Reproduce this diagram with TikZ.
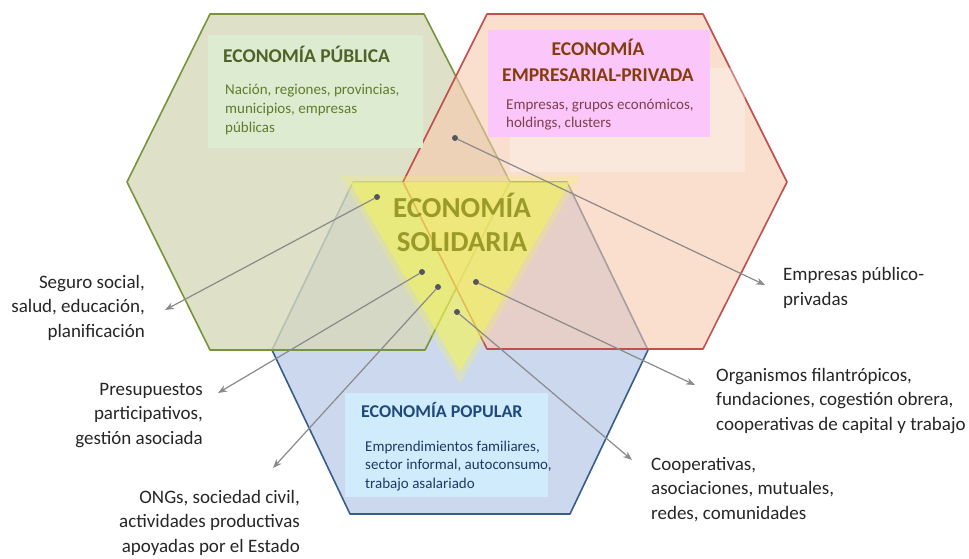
\documentclass[tikz,border=0pt]{standalone}
\usepackage{fontspec}
\setmainfont{Carlito}
\usetikzlibrary{arrows.meta,positioning}
\definecolor{greenline}{HTML}{77933C}
\definecolor{greenfill}{HTML}{D6D9BA}
\definecolor{redline}{HTML}{C0504D}
\definecolor{redfill}{HTML}{F7C9AF}
\definecolor{blueline}{HTML}{385D8A}
\definecolor{bluefill}{HTML}{CCD8EE}
\definecolor{sunfill}{HTML}{F4F45A}
\definecolor{boxgreen}{HTML}{DDEBD0}
\definecolor{boxpink}{HTML}{FBC6F9}
\definecolor{boxblue}{HTML}{D0ECFC}
\definecolor{titlegreen}{HTML}{4F6228}
\definecolor{textgreen}{HTML}{5E7D2C}
\definecolor{titlered}{HTML}{843C0C}
\definecolor{textred}{HTML}{7F3F4F}
\definecolor{titleblue}{HTML}{1F497D}
\definecolor{textblue}{HTML}{1F3864}
\definecolor{titlesun}{HTML}{9A9A28}
\definecolor{linegrey}{HTML}{8A8A8A}
\definecolor{dotgrey}{HTML}{555560}
\definecolor{labeltext}{HTML}{262626}

\begin{document}
\begin{tikzpicture}
    [x=1pt,y=-1pt,
    hexagon/.style={line width=1.6pt,line join=round},
    infobox/.style={rectangle,inner sep=0pt},
    title/.style={font=\bfseries\fontsize{19.5}{26}\selectfont,inner sep=0pt},
    bodytext/.style={font=\fontsize{15}{18.5}\selectfont,inner sep=0pt,align=left,anchor=base west},
    dot/.style={circle,fill=dotgrey,inner sep=0pt,minimum size=6pt},
    pointer/.style={draw=linegrey,line width=1.2pt,-{Stealth[length=9pt,width=7pt]}},
    caption/.style={font=\fontsize{19}{24.5}\selectfont,text=labeltext,inner sep=0pt}]
    \useasboundingbox (0,0) rectangle (969,559);
    \filldraw[hexagon,draw=blueline,fill=bluefill] (272,350) -- (353,182) -- (567,182) -- (648,350) -- (570,514) -- (350,514) -- cycle;
    \filldraw[hexagon,draw=greenline,fill=greenfill,fill opacity=0.8] (127,182) -- (210,14) -- (424,14) -- (510,182) -- (425,350) -- (210,350) -- cycle;
    \filldraw[hexagon,draw=redline,fill=redfill,fill opacity=0.6] (403,182) -- (487,14) -- (703,14) -- (787,182) -- (703,349) -- (487,349) -- cycle;
    \fill[sunfill,opacity=0.25] (340,176) -- (580,176) -- (460,384) -- cycle;
    \fill[sunfill,opacity=0.55] (350,182) -- (570,182) -- (460,372) -- cycle;
    \node (publica box) [infobox,fill=boxgreen,minimum width=215pt,minimum height=113pt] at (315.5,91.5) {};
    \node (privada glow) [infobox,fill=white,fill opacity=0.3,minimum width=235pt,minimum height=104pt] at (627.5,120) {};
    \node (privada box) [infobox,fill=boxpink,minimum width=222pt,minimum height=107pt] at (599,83.5) {};
    \node (popular box) [infobox,fill=boxblue,minimum width=203pt,minimum height=104pt] at (446.5,445) {};
    \node (publica title) [title,text=titlegreen,anchor=base west] at (223,63) {ECONOMÍA PÚBLICA};
    \node (publica text) [bodytext,text=textgreen] at (225,132) {Nación, regiones, provincias,\\municipios, empresas\\públicas};
    \node (privada title) [title,text=titlered,anchor=base,align=center] at (598,82) {ECONOMÍA\\EMPRESARIAL-PRIVADA};
    \node (privada text) [bodytext,text=textred] at (506,128) {Empresas, grupos económicos,\\holdings, clusters};
    \node (popular title) [title,font=\bfseries\fontsize{18}{24}\selectfont,text=titleblue,anchor=base west] at (361,417) {ECONOMÍA POPULAR};
    \node (popular text) [bodytext,text=textblue] at (365,488) {Emprendimientos familiares,\\sector informal, autoconsumo,\\trabajo asalariado};
    \node (solidaria title) [font=\bfseries\fontsize{29}{34}\selectfont,text=titlesun,align=center,anchor=base,inner sep=0pt] at (462,251) {ECONOMÍA\\SOLIDARIA};
    \node (seguro) [caption,align=right,anchor=base east] at (145,337) {Seguro social,\\salud, educación,\\planificación};
    \node (presupuestos) [caption,align=right,anchor=base east] at (203,444) {Presupuestos\\participativos,\\gestión asociada};
    \node (ongs) [caption,align=right,anchor=base east] at (300,552) {ONGs, sociedad civil,\\actividades productivas\\apoyadas por el Estado};
    \node (mixtas) [caption,align=left,anchor=base west] at (783,305) {Empresas público-\\privadas};
    \node (organismos) [caption,align=left,anchor=base west] at (716,430) {Organismos filantrópicos,\\fundaciones, cogestión obrera,\\cooperativas de capital y trabajo};
    \node (cooperativas) [caption,align=left,anchor=base west] at (651,519) {Cooperativas,\\asociaciones, mutuales,\\redes, comunidades};
    \node (dot mixtas) [dot] at (455,138) {};
    \node (dot seguro) [dot] at (377,197) {};
    \node (dot presupuestos) [dot] at (422,272) {};
    \node (dot ongs) [dot] at (438,287) {};
    \node (dot organismos) [dot] at (476,282) {};
    \node (dot cooperativas) [dot] at (457,312) {};
    \coordinate (tip mixtas) at (765,285);
    \coordinate (tip seguro) at (165,310);
    \coordinate (tip presupuestos) at (218,393);
    \coordinate (tip ongs) at (273,468);
    \coordinate (tip organismos) at (695,385);
    \coordinate (tip cooperativas) at (632,460);
    \draw[pointer] (dot mixtas) -- (tip mixtas);
    \draw[pointer] (dot seguro) -- (tip seguro);
    \draw[pointer] (dot presupuestos) -- (tip presupuestos);
    \draw[pointer] (dot ongs) -- (tip ongs);
    \draw[pointer] (dot organismos) -- (tip organismos);
    \draw[pointer] (dot cooperativas) -- (tip cooperativas);
\end{tikzpicture}
\end{document}
